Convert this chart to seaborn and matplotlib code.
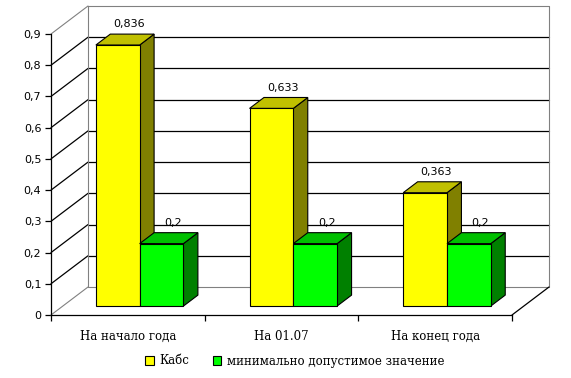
import matplotlib
matplotlib.use("Agg")
import matplotlib.pyplot as plt
import matplotlib.transforms as mtransforms
from matplotlib.patches import Polygon, Patch
from matplotlib.lines import Line2D
import numpy as np
import pandas as pd
import seaborn as sns

# ----------------------------
# Data
# ----------------------------
categories = ["На начало года", "На 01.07", "На конец года"]
kabs = [0.836, 0.633, 0.363]
min_allowed = [0.2, 0.2, 0.2]
series_names = ["Кабс", "минимально допустимое значение"]
value_labels_kabs = ["0,836", "0,633", "0,363"]
value_labels_min = ["0,2", "0,2", "0,2"]
y_ticks = [0, 0.1, 0.2, 0.3, 0.4, 0.5, 0.6, 0.7, 0.8, 0.9]
y_tick_labels = ["0", "0,1", "0,2", "0,3", "0,4", "0,5", "0,6", "0,7", "0,8", "0,9"]

front_colors = ["#FFFF00", "#00FF00"]
top_colors = ["#C0C000", "#00C000"]
side_colors = ["#808000", "#008000"]

# 3D depth vector of the floor (pixels) and bar depth range (fractions)
DEPTH = np.array([37.0, 28.0])
F0, F1 = 0.32, 0.71

df = pd.DataFrame({
    "category": categories * 2,
    "value": kabs + min_allowed,
    "series": [series_names[0]] * 3 + [series_names[1]] * 3,
})

sns.set_style("white", {"text.color": "black", "xtick.color": "black",
                        "ytick.color": "black", "axes.labelcolor": "black"})
plt.rcParams["font.family"] = ["DejaVu Sans"]
label_font = {"family": "DejaVu Serif", "size": 8.5}

fig = plt.figure(figsize=(5.71, 3.78), dpi=100)
ax = fig.add_axes([51 / 571, 63 / 378, 461 / 571, 281 / 378])
ax.set_facecolor("none")

sns.barplot(data=df, x="category", y="value", hue="series", order=categories,
            hue_order=series_names, palette=front_colors, width=0.57,
            edgecolor="black", linewidth=0.8, saturation=1, legend=False, ax=ax)
ax.set_xlim(-0.5, 2.5)
ax.set_ylim(0, 0.9)


def pt(x, y, d):
    p = ax.transData.transform((x, y))
    return p + d * DEPTH


def line3d(p0, p1, color, lw=0.9, z=1):
    xs, ys = zip(pt(*p0), pt(*p1))
    ax.add_line(Line2D(xs, ys, color=color, lw=lw, transform=mtransforms.IdentityTransform(),
                       clip_on=False, zorder=z))


# walls
gray = "#808080"
for yv in y_ticks[1:-1]:
    line3d((-0.5, yv, 0), (-0.5, yv, 1), "black")
    line3d((-0.5, yv, 1), (2.5, yv, 1), "black")
for yv in (0, 0.9):
    line3d((-0.5, yv, 0), (-0.5, yv, 1), gray, lw=0.8)
    line3d((-0.5, yv, 1), (2.5, yv, 1), gray, lw=0.8)
line3d((-0.5, 0, 1), (-0.5, 0.9, 1), gray, lw=0.8)
line3d((2.5, 0, 1), (2.5, 0.9, 1), gray, lw=0.8)
line3d((2.5, 0, 0), (2.5, 0, 1), "black")

# bars: shift front faces into depth, add top and side faces
shift = mtransforms.ScaledTranslation(F0 * DEPTH[0] / 100, F0 * DEPTH[1] / 100,
                                      fig.dpi_scale_trans)
ident = mtransforms.IdentityTransform()
for j, cont in enumerate(ax.containers):
    for bar in cont:
        bar.set_transform(ax.transData + shift)
        bar.set_clip_on(False)
        bar.set_zorder(3.05 + j * 0.1)
        x0, w, h = bar.get_x(), bar.get_width(), bar.get_height()
        x1 = x0 + w
        top = [pt(x0, h, F0), pt(x1, h, F0), pt(x1, h, F1), pt(x0, h, F1)]
        side = [pt(x1, 0, F0), pt(x1, 0, F1), pt(x1, h, F1), pt(x1, h, F0)]
        for verts, col in ((side, side_colors[j]), (top, top_colors[j])):
            ax.add_patch(Polygon(verts, closed=True, facecolor=col, edgecolor="black",
                                 lw=0.8, transform=ident, clip_on=False,
                                 zorder=3.0 + j * 0.1))

# value labels
for j, (vals, labs) in enumerate(((kabs, value_labels_kabs), (min_allowed, value_labels_min))):
    off = -0.1425 if j == 0 else 0.1425
    for i, (v, lab) in enumerate(zip(vals, labs)):
        p = ax.transData.transform((i + off, v)) + 0.6 * DEPTH
        ax.annotate(lab, xy=(0, 0), xytext=(p[0] + 1, p[1] + 13), xycoords=ident,
                    textcoords=ident, ha="center", va="center", fontsize=8,
                    color="black", annotation_clip=False)

# axes styling
sns.despine(ax=ax, top=True, right=True)
for s in ("left", "bottom"):
    ax.spines[s].set_color("black")
    ax.spines[s].set_linewidth(0.9)
ax.set_yticks(y_ticks)
ax.set_yticklabels(y_tick_labels, fontsize=8)
ax.set_xticks([-0.5, 0.5, 1.5, 2.5])
ax.set_xticklabels([])
ax.set_xticks([0, 1, 2], minor=True)
ax.set_xticklabels(categories, minor=True, **label_font)
ax.tick_params(axis="both", which="major", direction="out", length=4, width=0.9,
               color="black", labelcolor="black", left=True, bottom=True, pad=3)
ax.tick_params(axis="x", which="minor", length=0, pad=11, labelcolor="black")
ax.set_xlabel("")
ax.set_ylabel("")

handles = [Patch(facecolor=c, edgecolor="black", lw=0.8) for c in front_colors]
leg = fig.legend(handles, series_names, loc="center", bbox_to_anchor=(295 / 571, 1 - 361 / 378),
                 ncol=2, frameon=False, prop=label_font, labelcolor="black",
                 handlelength=0.7, handleheight=0.7, handletextpad=0.5, columnspacing=2.0)

fig.savefig("out.png", dpi=100)
